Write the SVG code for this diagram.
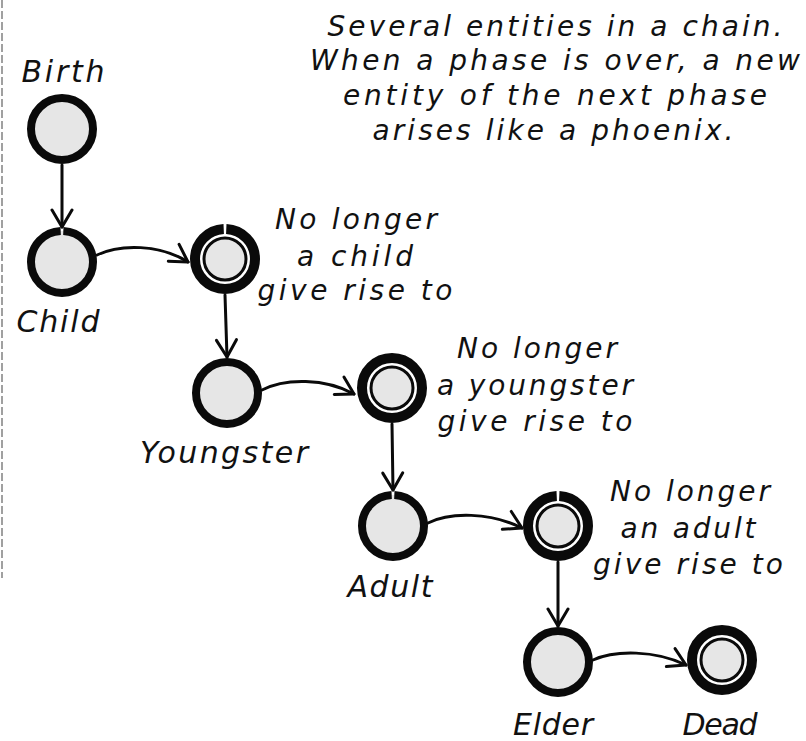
<svg xmlns="http://www.w3.org/2000/svg" width="806" height="741" viewBox="0 0 806 741">
<style>
  .t { font-family: "DejaVu Sans", "Liberation Sans", sans-serif; font-style: oblique; fill: #111; text-anchor: middle; }
  .lbl { font-size: 30px; }
  .note { font-size: 28px; }
  .top { font-size: 28px; }
  .st { fill: #e6e6e6; stroke: #0a0a0a; stroke-width: 8; }
  .fo { fill: #ffffff; stroke: #0a0a0a; stroke-width: 10; }
  .fi { fill: #e6e6e6; stroke: #0a0a0a; stroke-width: 3; }
  .gap { stroke-dasharray: 98.6 1.4; stroke-dashoffset: 24.3; }
  .edge { fill: none; stroke: #0a0a0a; stroke-width: 3; stroke-linecap: round; marker-end: url(#arr); }
</style>
<defs>
  <marker id="arr" markerUnits="userSpaceOnUse" markerWidth="24" markerHeight="26" refX="20" refY="12" orient="auto">
    <path d="M3,2 L20,12 L3,22" fill="none" stroke="#0a0a0a" stroke-width="3" stroke-linecap="round" stroke-linejoin="round"/>
  </marker>
</defs>
<rect width="806" height="741" fill="#ffffff"/>
<line x1="2" y1="0" x2="2" y2="578" stroke="#a0a0a0" stroke-width="2" stroke-dasharray="8 3"/>

<g id="caption">
  <text class="t top" x="555" y="36" textLength="455" lengthAdjust="spacing">Several entities in a chain.</text>
  <text class="t top" x="555" y="70" textLength="490" lengthAdjust="spacing">When a phase is over, a new</text>
  <text class="t top" x="555" y="105" textLength="424" lengthAdjust="spacing">entity of the next phase</text>
  <text class="t top" x="553" y="140" textLength="361" lengthAdjust="spacing">arises like a phoenix.</text>
</g>

<g id="connectors">
  <path class="edge" d="M62,165 L62,227"/>
  <path class="edge" d="M97,255 C120,244 160,244 188,262"/>
  <path class="edge" d="M225,295 L227,357"/>
  <path class="edge" d="M262,390 C285,378 325,378 354,394"/>
  <path class="edge" d="M392,424 L393,490"/>
  <path class="edge" d="M428,523 C450,512 490,512 522,528"/>
  <path class="edge" d="M558,562 L558,626"/>
  <path class="edge" d="M593,660 C615,650 655,650 686,665"/>
</g>

<g id="birth">
  <circle class="st" cx="62" cy="129" r="31"/>
  <text class="t lbl" x="63" y="82" textLength="83" lengthAdjust="spacing">Birth</text>
</g>
<g id="child">
  <circle class="st gap" cx="62" cy="262" r="31" pathLength="100"/>
  <text class="t lbl" x="58" y="332" textLength="83" lengthAdjust="spacing">Child</text>
</g>
<g id="child-end">
  <circle class="fo gap" cx="225" cy="259" r="30" pathLength="100"/>
  <circle class="fi" cx="225" cy="259" r="21"/>
  <text class="t note" x="356" y="229" textLength="162" lengthAdjust="spacing">No longer</text>
  <text class="t note" x="355" y="266" textLength="116" lengthAdjust="spacing">a child</text>
  <text class="t note" x="355" y="300" textLength="195" lengthAdjust="spacing">give rise to</text>
</g>
<g id="youngster">
  <circle class="st" cx="227" cy="393" r="31"/>
  <text class="t lbl" x="224" y="463" textLength="168" lengthAdjust="spacing">Youngster</text>
</g>
<g id="youngster-end">
  <circle class="fo" cx="392" cy="388" r="30"/>
  <circle class="fi" cx="392" cy="388" r="21"/>
  <text class="t note" x="537" y="358" textLength="160" lengthAdjust="spacing">No longer</text>
  <text class="t note" x="535" y="395" textLength="196" lengthAdjust="spacing">a youngster</text>
  <text class="t note" x="535" y="431" textLength="195" lengthAdjust="spacing">give rise to</text>
</g>
<g id="adult">
  <circle class="st gap" cx="393" cy="526" r="31" pathLength="100"/>
  <text class="t lbl" x="390" y="597" textLength="85" lengthAdjust="spacing">Adult</text>
</g>
<g id="adult-end">
  <circle class="fo gap" cx="558" cy="526" r="30" pathLength="100"/>
  <circle class="fi" cx="558" cy="526" r="21"/>
  <text class="t note" x="690" y="501" textLength="160" lengthAdjust="spacing">No longer</text>
  <text class="t note" x="688" y="538" textLength="135" lengthAdjust="spacing">an adult</text>
  <text class="t note" x="688" y="574" textLength="190" lengthAdjust="spacing">give rise to</text>
</g>
<g id="elder">
  <circle class="st" cx="558" cy="662" r="31"/>
  <text class="t lbl" x="553" y="735" textLength="80" lengthAdjust="spacing">Elder</text>
</g>
<g id="dead">
  <circle class="fo" cx="722" cy="660" r="30"/>
  <circle class="fi" cx="722" cy="660" r="21"/>
  <text class="t lbl" x="720" y="735" textLength="75" lengthAdjust="spacing">Dead</text>
</g>
</svg>
